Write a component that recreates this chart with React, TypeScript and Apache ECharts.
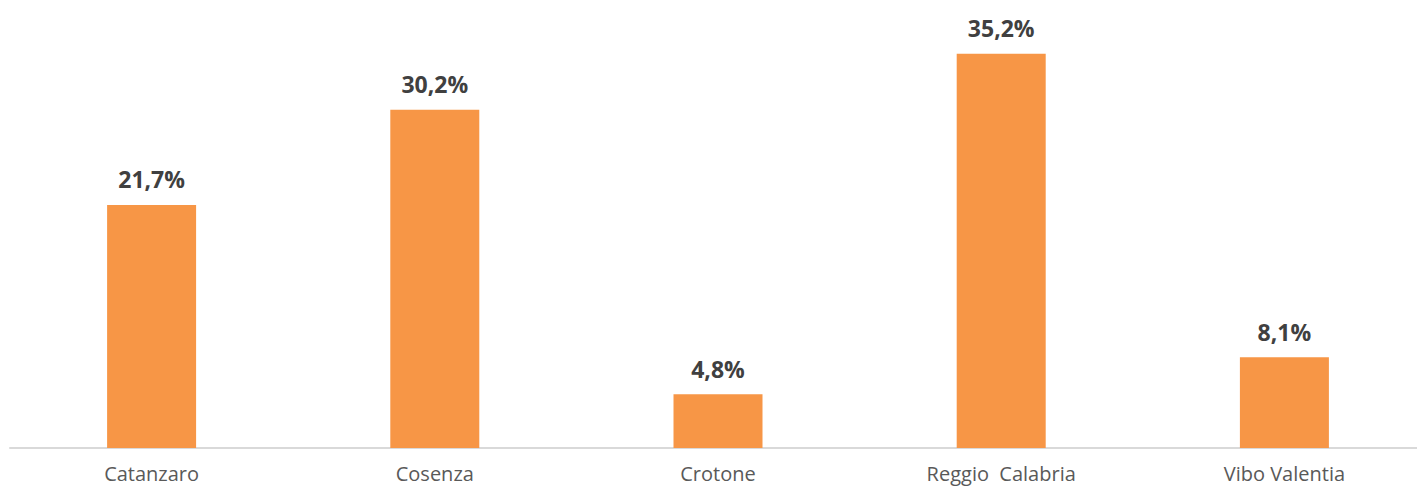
import React, { useEffect, useRef } from "react";
import * as echarts from "echarts";

const categories = ["Catanzaro", "Cosenza", "Crotone", "Reggio  Calabria", "Vibo Valentia"];
const values = [21.7, 30.2, 4.8, 35.2, 8.1];

export default function App() {
  const ref = useRef<HTMLDivElement>(null);
  useEffect(() => {
    if (!ref.current) return;
    const chart = echarts.init(ref.current, null, { renderer: "svg" });
    chart.setOption({
      animation: false,
      grid: { left: 10, right: -9, top: 0, height: 448, outerBoundsMode: "none", containLabel: false },
      xAxis: {
        type: "category",
        data: categories,
        axisLine: { lineStyle: { color: "#d9d9d9", width: 2 } },
        axisTick: { show: false },
        axisLabel: {
          color: "#595959",
          fontFamily: "Open Sans",
          fontSize: 20,
          lineHeight: 22,
          margin: 14,
          interval: 0,
        },
      },
      yAxis: {
        type: "value",
        min: 0,
        max: 40,
        show: false,
        splitLine: { show: false },
      },
      series: [
        {
          type: "bar",
          data: values,
          barWidth: 89,
          itemStyle: { color: "#F79646" },
          label: {
            show: true,
            position: "top",
            distance: 14,
            color: "#404040",
            fontFamily: "Open Sans",
            fontWeight: "bold",
            fontSize: 23,
            formatter: (p: any) => p.value.toFixed(1).replace(".", ",") + "%",
          },
        },
      ],
    });
    return () => chart.dispose();
  }, []);
  return (
    <div
      ref={ref}
      style={{ position: "fixed", left: 0, top: 0, width: 1417, height: 488, background: "#fff" }}
    />
  );
}
